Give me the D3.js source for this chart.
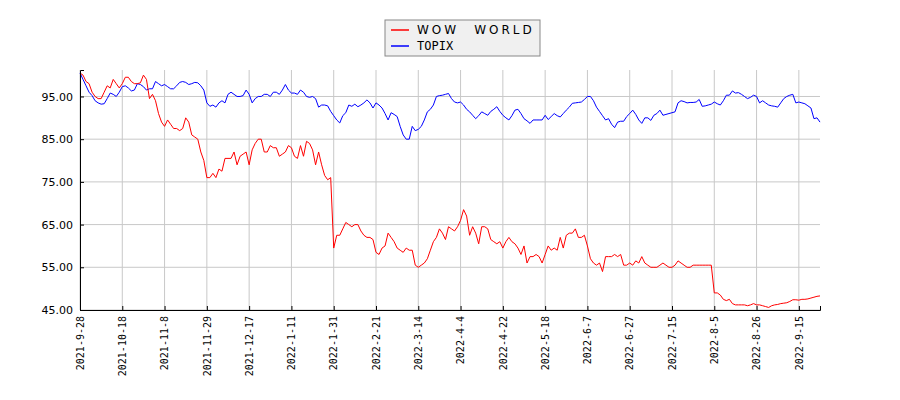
<!DOCTYPE html>
<html><head><meta charset="utf-8">
<script src="https://cdn.jsdelivr.net/npm/d3@7"></script>
<style>body{margin:0;background:#fff}</style>
</head><body><div id="chart"></div>
<script>
const dateLabels = ["2021-9-28","2021-10-18","2021-11-8","2021-11-29","2021-12-17","2022-1-11","2022-1-31","2022-2-21","2022-3-14","2022-4-4","2022-4-22","2022-5-18","2022-6-7","2022-6-27","2022-7-15","2022-8-5","2022-8-26","2022-9-15"];
const yTicks = [45, 55, 65, 75, 85, 95];
const wowWorld = [
100.5,100,98.5,98,96,95,94.5,94.5,96,97.5,97,99,98,97,
98,99.5,99.5,98.5,98,98,98.2,100,99,94.5,95.5,94,91,89,88,
89.5,88.5,87.5,87.5,87,87.5,90,89,86,85.5,85,82,80,76,
76,77,76,78,77.5,80.5,80.5,80.5,82,79,81,81.5,82,79,
82.5,84,85,85,82,82,83.5,83,83,81,81.5,82,83.5,83,
81,80.5,83.5,81,84.5,84,82.5,79,82,79,76.5,75.5,76,59.5,
62.5,62.5,64,65.5,65,64.5,65,65,63.5,62.5,62,62,61.5,58.5,
58,59.5,60,63,62,61,59.5,59,58.5,59.5,59,59,55.5,55,
55.5,56,57,59,61,62,64,63,61.5,64.5,64,63.5,64.5,66,
68.5,67,62.5,64.5,63,60.5,64.5,64.5,64,61.5,61,60.5,61,59.5,
61,62,61,60.5,59.5,58,60,56,57.5,57.5,58,57.5,56,58,
60,59,59.5,59,62,59.5,62.5,63,63,64,62,62,62.5,60,
57,56,55.5,56,54,57.5,57.5,57.5,58,57.5,58,55.5,55.5,56,
55.5,56.5,56,57.5,56,55.5,55,55,55,55.5,56,55.5,55,55,
55.5,56.5,56,55.5,55,55,55.5,55.5,55.5,55.5,55.5,55.5,55.5,49,
49,48.5,47.5,47.2,47.5,46.5,46.2,46.2,46.2,46.2,46,46.2,46.5,46.2,
46.2,46,45.8,45.6,46,46.2,46.3,46.5,46.6,46.7,47,47.4,47.4,47.3,
47.5,47.5,47.6,47.8,48,48.2,48.3];
const topix = [
100.5,99,97.5,96,95.2,94,93.5,93.2,93.3,94.5,95.8,95.5,95,96,97.3,
97.5,97,96.3,96.5,98,97.8,97.3,96.5,96.8,96.8,98.5,98,97.5,97.8,97.3,
96.8,96.8,97.5,98.3,98.5,98.3,97.8,98,98.3,98.2,97.5,96.5,
93.5,92.7,93,92.5,93.5,94,93.5,95.5,96,95.5,95,95,95.2,96.5,95.5,93.5,94.5,95,95,95.5,
95.5,95,96,96,95.5,96.5,97.8,96.5,95.8,95.8,95.5,96.5,96,95,94.8,95,94.5,92.5,
93,93,92.8,91.5,90.5,89.5,88.8,90.5,91.2,93,92.7,93.2,92.6,93,93.5,94.2,93.5,92.3,93.5,93,
92.3,91,89.5,
91.2,90.8,90.3,88,86,85,85,88,87,87.3,88,89.5,91.4,92,93,95,95.2,95.3,95.5,95.7,
94.5,93.7,93.5,93.7,93,92,91.4,90.6,89.8,90.5,91.4,91,90.6,91.5,92,92.6,91.5,90.6,90,89.5,
90.5,91.8,92,91,89.8,89.3,88.7,89.5,89.5,89.5,89.5,90.6,89.6,90.3,91,90.5,90.2,91,91.8,92.5,
93.4,93.5,93.6,93.7,94.3,95,
95,94,92.5,91.5,90.5,89.5,89.8,88.5,87.7,89,89.2,89.2,90.3,91,91.8,90.8,89.5,88.7,90,90,
89.4,90.6,91,91.8,90.6,90.8,91,91.2,91.4,93.5,94,93.8,93.5,93.6,93.6,93.7,94.3,92.7,92.8,93,
93.2,93.7,93.3,93,94,95.3,95.3,96.3,95.8,95.9,95.5,95,94.5,94.8,95.3,95,93.5,94,93.5,93,
92.8,92.7,92.5,93.5,94.5,95,95.3,95.5,93.5,93.7,93.5,93.3,92.8,92.3,89.8,90,89];

const W = 900, H = 400;
const m = {left: 80, right: 820, top: 70, bottom: 310};
const svg = d3.select('#chart').append('svg').attr('width', W).attr('height', H);

const n = Math.max(wowWorld.length, topix.length);
const x = d3.scaleLinear().domain([0, n - 1]).range([m.left, m.right]);
const y = d3.scaleLinear().domain([45, 101.2]).range([m.bottom, m.top]);
const tickIdx = dateLabels.map((d, i) => i * 14);

// grid
svg.append('g').selectAll('line').data(tickIdx).enter().append('line')
  .attr('x1', d => x(d)).attr('x2', d => x(d)).attr('y1', m.top).attr('y2', m.bottom)
  .attr('stroke', '#c8c8c8');
svg.append('g').selectAll('line').data(yTicks).enter().append('line')
  .attr('x1', m.left).attr('x2', m.right).attr('y1', d => y(d)).attr('y2', d => y(d))
  .attr('stroke', '#c8c8c8');

const line = d3.line().x((d, i) => x(i)).y(d => y(d));
svg.append('path').datum(topix).attr('d', line).attr('fill', 'none').attr('stroke', '#0000ff').attr('stroke-width', 1);
svg.append('path').datum(wowWorld).attr('d', line).attr('fill', 'none').attr('stroke', '#ff0000').attr('stroke-width', 1);

// axes (ticks point inward)
const yAxis = d3.axisLeft(y).tickValues(yTicks).tickFormat(d3.format('.2f')).tickSize(-4).tickPadding(7);
svg.append('g').attr('transform', `translate(${m.left},0)`).call(yAxis)
  .call(g => g.selectAll('text').attr('font-family', 'DejaVu Sans').attr('font-size', 11).attr('fill', '#000'));
const xAxis = d3.axisBottom(x).tickValues(tickIdx).tickFormat((d, i) => dateLabels[i]).tickSize(-4);
svg.append('g').attr('transform', `translate(0,${m.bottom})`).call(xAxis)
  .call(g => g.selectAll('text').attr('font-family', 'DejaVu Sans Mono').attr('font-size', 10).attr('fill', '#000')
    .attr('transform', 'rotate(-90)').attr('text-anchor', 'end').attr('x', -6).attr('y', 0).attr('dy', '0.32em'));
svg.selectAll('.domain').attr('stroke', '#000');

// legend
const lg = svg.append('g').attr('transform', 'translate(385,20)');
lg.append('rect').attr('width', 155).attr('height', 36).attr('fill', '#f0f0f0').attr('stroke', '#888');
const legendItems = [['WOW　WORLD', '#ff0000'], ['TOPIX', '#0000ff']];
legendItems.forEach((d, i) => {
  lg.append('line').attr('x1', 6).attr('x2', 24).attr('y1', 10 + i * 16).attr('y2', 10 + i * 16).attr('stroke', d[1]).attr('stroke-width', 1.5);
  lg.append('text').attr('x', 32).attr('y', 14 + i * 16).text(d[0])
    .attr('font-family', i === 0 ? 'DejaVu Sans' : 'DejaVu Sans Mono').attr('font-size', 12)
    .attr('letter-spacing', i === 0 ? 3 : 0);
});
</script></body></html>
